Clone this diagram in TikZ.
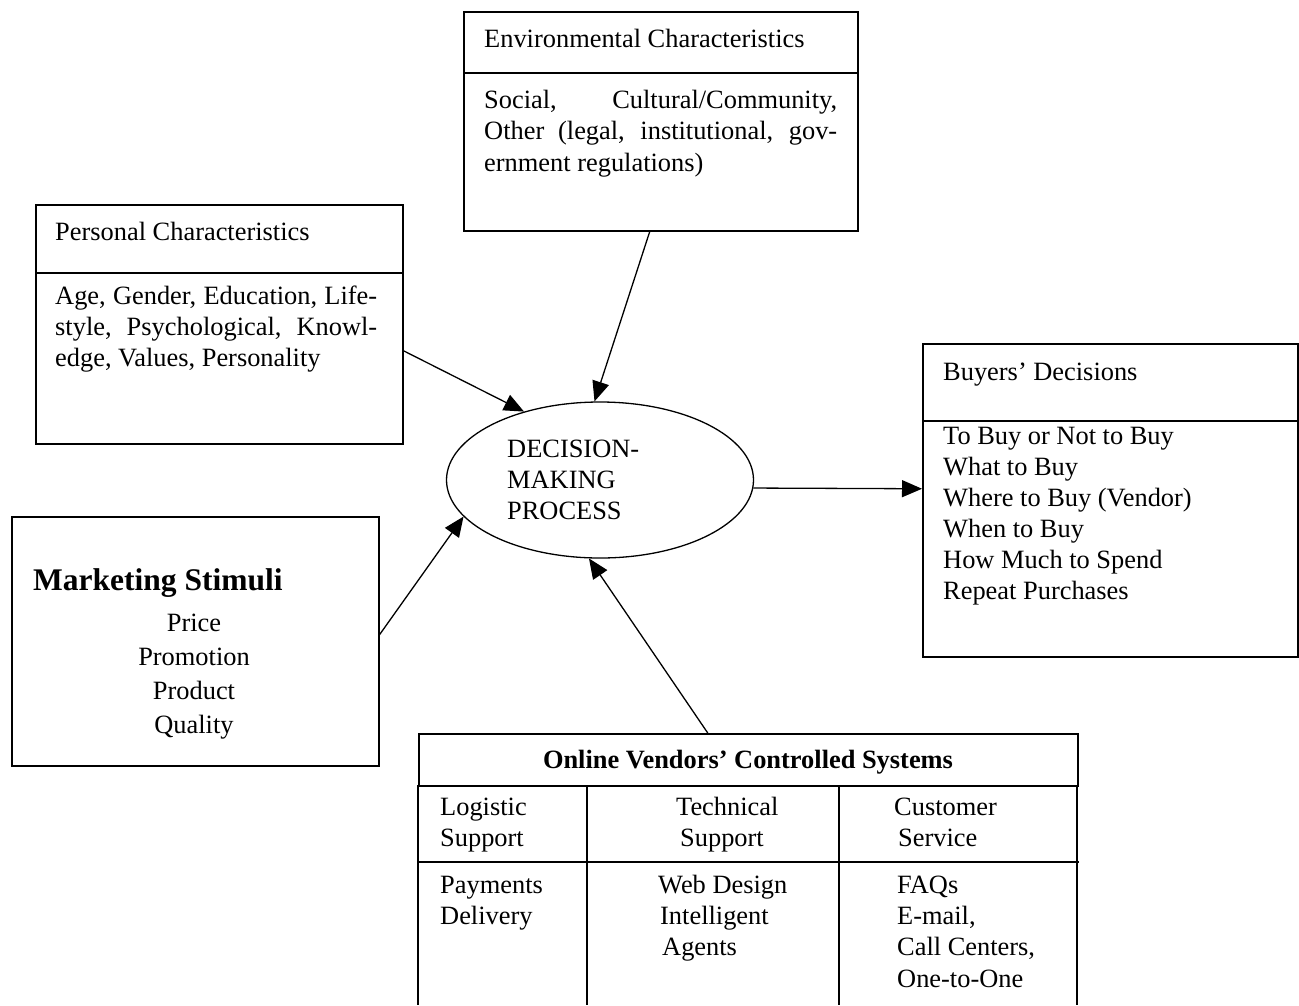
\documentclass[tikz,border=0pt]{standalone}
\usepackage{fontspec}
\setmainfont{Liberation Serif}
\usetikzlibrary{shapes.geometric,arrows.meta}
\begin{document}
\begin{tikzpicture}[x=1pt,y=-1pt,
  box/.style={draw,line width=1.5pt,inner sep=0pt,anchor=north west},
  rule/.style={line width=1.5pt},
  txt/.style={inner sep=0pt,anchor=base west,font=\fontsize{26.4}{31.7}\selectfont},
  ctxt/.style={inner sep=0pt,anchor=base,font=\fontsize{26.4}{31.7}\selectfont},
  arr/.style={line width=1.3pt,-{Triangle[length=20pt,width=17pt]}}]
\useasboundingbox (0,0) rectangle (1299,1005);

% Environmental characteristics
\node[box,minimum width=394pt,minimum height=219pt] (env) at (463,11) {};
\draw[rule] (463,73) -- (857,73);
\node[txt] (envt) at (484,47) {Environmental Characteristics};
\node[txt] (envb1) at (484,108) {\makebox[353pt][s]{Social, Cultural/Community,}};
\node[txt] (envb2) at (484,139) {\makebox[353pt][s]{Other (legal, institutional, gov-}};
\node[txt] (envb3) at (484,171) {ernment regulations)};

% Personal characteristics
\node[box,minimum width=367pt,minimum height=239pt] (pers) at (35,204) {};
\draw[rule] (35,273) -- (402,273);
\node[txt] (perst) at (55,240) {Personal Characteristics};
\node[txt] (persb1) at (55,304) {\makebox[322pt][s]{Age, Gender, Education, Life-}};
\node[txt] (persb2) at (55,335) {\makebox[322pt][s]{style, Psychological, Knowl-}};
\node[txt] (persb3) at (55,366) {edge, Values, Personality};

% Decision making process
\node[draw,ellipse,line width=1.3pt,minimum width=307pt,minimum height=156pt,inner sep=0pt] (dm) at (600,480) {};
\node[txt] (dm1) at (507,457) {DECISION-};
\node[txt] (dm2) at (507,488) {MAKING};
\node[txt] (dm3) at (507,519) {PROCESS};

% Buyers' decisions
\node[box,minimum width=375pt,minimum height=313pt] (buy) at (922,343) {};
\draw[rule] (922,421) -- (1297,421);
\node[txt] (buyt) at (943,380) {Buyers’ Decisions};
\node[txt] (buy1) at (943,444) {To Buy or Not to Buy};
\node[txt] (buy2) at (943,475) {What to Buy};
\node[txt] (buy3) at (943,506) {Where to Buy (Vendor)};
\node[txt] (buy4) at (943,537) {When to Buy};
\node[txt] (buy5) at (943,568) {How Much to Spend};
\node[txt] (buy6) at (943,599) {Repeat Purchases};

% Marketing stimuli
\node[box,minimum width=367pt,minimum height=249pt] (mkt) at (11,516) {};
\node[inner sep=0pt,anchor=base west,font=\fontsize{31.5}{36}\selectfont\bfseries] (mktt) at (33,590) {Marketing Stimuli};
\node[ctxt] (mk1) at (194,631) {Price};
\node[ctxt] (mk2) at (194,665) {Promotion};
\node[ctxt] (mk3) at (194,699) {Product};
\node[ctxt] (mk4) at (194,733) {Quality};

% Online vendors' controlled systems
\node[box,minimum width=659pt,minimum height=52pt] (tbl) at (418,733) {};
\draw[rule] (418,785) -- (418,1005);
\draw[rule] (1077,785) -- (1077,1005);
\draw[rule] (418,862) -- (1079,862);
\draw[rule] (587,785) -- (587,1005);
\draw[rule] (839,785) -- (839,1005);
\node[ctxt,font=\fontsize{26.4}{31.7}\selectfont\bfseries] (tblt) at (748,768) {Online Vendors’ Controlled Systems};
\node[txt] (c11) at (440,815) {Logistic};
\node[txt] (c12) at (440,846) {Support};
\node[txt] (c21) at (676,815) {Technical};
\node[txt] (c22) at (680,846) {Support};
\node[txt] (c31) at (894,815) {Customer};
\node[txt] (c32) at (898,846) {Service};
\node[txt] (d11) at (440,893) {Payments};
\node[txt] (d12) at (440,924) {Delivery};
\node[txt] (d21) at (658,893) {Web Design};
\node[txt] (d22) at (660,924) {Intelligent};
\node[txt] (d23) at (662,955) {Agents};
\node[txt] (d31) at (897,893) {FAQs};
\node[txt] (d32) at (897,924) {E-mail,};
\node[txt] (d33) at (897,955) {Call Centers,};
\node[txt] (d34) at (897,987) {One-to-One};

% Connectors
\draw[arr] ([yshift=-26.5pt]pers.east) -- (dm.138.6);
\draw[arr] ([xshift=-11pt]env.south) -- (dm.94.4);
\draw[arr] ([yshift=6.5pt]mkt.east) -- (dm.195.9);
\draw[arr] ([xshift=-40.5pt]tbl.north) -- (dm.262.7);
\draw[arr] (dm.-3) -- ([yshift=11.5pt]buy.west);
\end{tikzpicture}
\end{document}
